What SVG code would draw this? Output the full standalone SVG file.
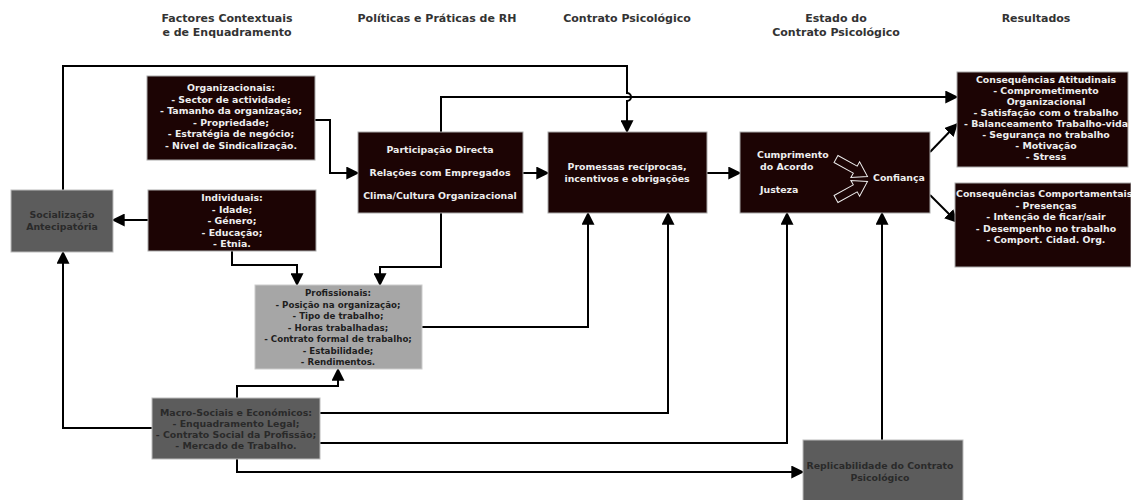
<svg xmlns="http://www.w3.org/2000/svg" width="1131" height="500" viewBox="0 0 1131 500">
<style>
.hdr{font-family:"DejaVu Sans",Verdana,sans-serif;font-weight:bold;font-size:11px;fill:#333;text-anchor:middle}
.dk{fill:#1c0404;stroke:#aaa;stroke-width:1}
.gr{fill:#5c5c5c;stroke:#bbb;stroke-width:1}
.lg{fill:#a6a6a6;stroke:#ccc;stroke-width:1}
.lt{font-family:"DejaVu Sans",Verdana,sans-serif;font-weight:bold;font-size:9.4px;fill:#eee;text-anchor:middle}
.dt{font-family:"DejaVu Sans",Verdana,sans-serif;font-weight:bold;font-size:8.7px;fill:#1e1e1e;text-anchor:middle}
.st{font-family:"DejaVu Sans",Verdana,sans-serif;font-weight:bold;font-size:9.4px;fill:#2a2a2a;text-anchor:middle}
.cn{fill:none;stroke:#000;stroke-width:2}
.ba{fill:none;stroke:#eee;stroke-width:1}
</style>
<defs>
<marker id="ah" viewBox="0 0 10 10" refX="9" refY="5" markerWidth="6.5" markerHeight="6.5" orient="auto">
<path d="M0,0 L10,5 L0,10 z" fill="#000"/>
</marker>
</defs>
<rect width="1131" height="500" fill="#fff"/>
<g id="headers">
<text class="hdr" x="227" y="22">Factores Contextuais</text>
<text class="hdr" x="227" y="36">e de Enquadramento</text>
<text class="hdr" x="437" y="22">Políticas e Práticas de RH</text>
<text class="hdr" x="627" y="22">Contrato Psicológico</text>
<text class="hdr" x="836" y="22">Estado do</text>
<text class="hdr" x="836" y="36">Contrato Psicológico</text>
<text class="hdr" x="1036" y="22">Resultados</text>
</g>
<g id="connectors">
<path class="cn" d="M63,190 V66 H627 V93 a4,4 0 0 1 0,8 V132" marker-end="url(#ah)"/>
<path class="cn" d="M441,132 V97 H957" marker-end="url(#ah)"/>
<path class="cn" d="M315,120 H330 V173 H358" marker-end="url(#ah)"/>
<path class="cn" d="M523,173 H548" marker-end="url(#ah)"/>
<path class="cn" d="M707,173 H740" marker-end="url(#ah)"/>
<path class="cn" d="M148,220 H113" marker-end="url(#ah)"/>
<path class="cn" d="M232,251 V265 H297 V285" marker-end="url(#ah)"/>
<path class="cn" d="M441,213 V267 H380 V285" marker-end="url(#ah)"/>
<path class="cn" d="M422,327 H588 V213" marker-end="url(#ah)"/>
<path class="cn" d="M320,413 H668 V213" marker-end="url(#ah)"/>
<path class="cn" d="M320,443 H787 V213" marker-end="url(#ah)"/>
<path class="cn" d="M152,428 H63 V252" marker-end="url(#ah)"/>
<path class="cn" d="M237,398 V386 H338 V369" marker-end="url(#ah)"/>
<path class="cn" d="M237,459 V472 H803" marker-end="url(#ah)"/>
<path class="cn" d="M882,440 V213" marker-end="url(#ah)"/>
<path class="cn" d="M930,152 L957,124" marker-end="url(#ah)"/>
<path class="cn" d="M930,195 L957,222" marker-end="url(#ah)"/>
</g>
<g id="organizacionais">
<rect class="dk" x="147" y="76" width="168" height="84"/>
<text class="lt" x="231" y="91">Organizacionais:</text>
<text class="lt" x="231" y="102.5">- Sector de actividade;</text>
<text class="lt" x="231" y="114">- Tamanho da organização;</text>
<text class="lt" x="231" y="125.5">- Propriedade;</text>
<text class="lt" x="231" y="137">- Estratégia de negócio;</text>
<text class="lt" x="231" y="148.5">- Nível de Sindicalização.</text>
</g>
<g id="individuais">
<rect class="dk" x="148" y="190" width="168" height="61"/>
<text class="lt" x="232" y="201">Individuais:</text>
<text class="lt" x="232" y="212.5">- Idade;</text>
<text class="lt" x="232" y="224">- Género;</text>
<text class="lt" x="232" y="235.5">- Educação;</text>
<text class="lt" x="232" y="247">- Etnia.</text>
</g>
<g id="socializacao">
<rect class="gr" x="11" y="190" width="102" height="62"/>
<text class="st" x="62" y="218">Socialização</text>
<text class="st" x="62" y="229.5">Antecipatória</text>
</g>
<g id="participacao">
<rect class="dk" x="358" y="132" width="165" height="81"/>
<text class="lt" x="440" y="153">Participação Directa</text>
<text class="lt" x="440" y="176">Relações com Empregados</text>
<text class="lt" x="440" y="199">Clima/Cultura Organizacional</text>
</g>
<g id="promessas">
<rect class="dk" x="548" y="132" width="159" height="81"/>
<text class="lt" x="627" y="170">Promessas recíprocas,</text>
<text class="lt" x="627" y="182">incentivos e obrigações</text>
</g>
<g id="estado">
<rect class="dk" x="740" y="132" width="190" height="81"/>
<text class="lt" x="757" y="158" style="text-anchor:start">Cumprimento</text>
<text class="lt" x="760" y="170" style="text-anchor:start">do Acordo</text>
<text class="lt" x="760" y="193" style="text-anchor:start">Justeza</text>
<text class="lt" x="873" y="181" style="text-anchor:start">Confiança</text>
<polygon class="ba" points="0,-4 22,-4 22,-9 36,0 22,9 22,4 0,4" transform="translate(836,159) rotate(29)"/>
<polygon class="ba" points="0,-4 22,-4 22,-9 36,0 22,9 22,4 0,4" transform="translate(836,199) rotate(-29)"/>
</g>
<g id="atitudinais">
<rect class="dk" x="957" y="72" width="171" height="95"/>
<text class="lt" x="1046" y="83">Consequências Atitudinais</text>
<text class="lt" x="1046" y="94">- Comprometimento</text>
<text class="lt" x="1046" y="105">Organizacional</text>
<text class="lt" x="1046" y="116">- Satisfação com o trabalho</text>
<text class="lt" x="1046" y="127">- Balanceamento Trabalho-vida</text>
<text class="lt" x="1046" y="138">- Segurança no trabalho</text>
<text class="lt" x="1046" y="149">- Motivação</text>
<text class="lt" x="1046" y="160">- Stress</text>
</g>
<g id="comportamentais">
<rect class="dk" x="955" y="183" width="176" height="84"/>
<text class="lt" x="956" y="197" style="text-anchor:start">Consequências Comportamentais</text>
<text class="lt" x="1046" y="208.5">- Presenças</text>
<text class="lt" x="1046" y="220">- Intenção de ficar/sair</text>
<text class="lt" x="1046" y="231.5">- Desempenho no trabalho</text>
<text class="lt" x="1046" y="243">- Comport. Cidad. Org.</text>
</g>
<g id="profissionais">
<rect class="lg" x="255" y="285" width="167" height="84"/>
<text class="dt" x="338" y="296">Profissionais:</text>
<text class="dt" x="338" y="307.5">- Posição na organização;</text>
<text class="dt" x="338" y="319">- Tipo de trabalho;</text>
<text class="dt" x="338" y="330.5">- Horas trabalhadas;</text>
<text class="dt" x="338" y="342">- Contrato formal de trabalho;</text>
<text class="dt" x="338" y="353.5">- Estabilidade;</text>
<text class="dt" x="338" y="365">- Rendimentos.</text>
</g>
<g id="macro">
<rect class="gr" x="152" y="398" width="168" height="61"/>
<text class="st" x="236" y="416">Macro-Sociais e Económicos:</text>
<text class="st" x="236" y="427">- Enquadramento Legal;</text>
<text class="st" x="236" y="438">- Contrato Social da Profissão;</text>
<text class="st" x="236" y="449">- Mercado de Trabalho.</text>
</g>
<g id="replicabilidade">
<rect class="gr" x="803" y="440" width="160" height="62"/>
<text class="st" x="880" y="469">Replicabilidade do Contrato</text>
<text class="st" x="880" y="481">Psicológico</text>
</g>
</svg>
